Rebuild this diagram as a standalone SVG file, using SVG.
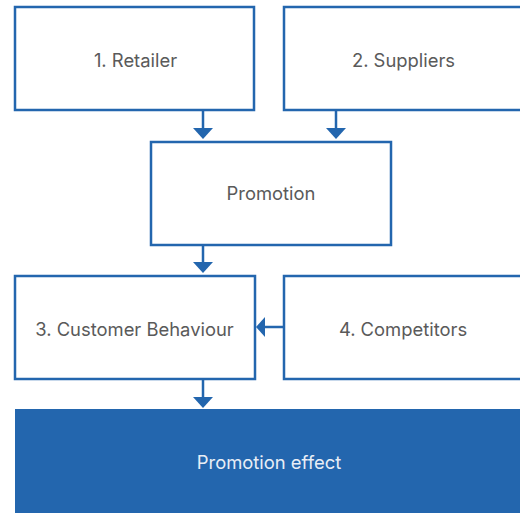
<svg xmlns="http://www.w3.org/2000/svg" width="520" height="513" viewBox="0 0 520 513">
<defs>
<style>
.box{fill:#ffffff;stroke:#2366ae;stroke-width:2.5}
.lbl{font-family:Inter,"Noto Sans",sans-serif;font-size:18.4px;fill:#5a5a5a;text-anchor:middle;dominant-baseline:central}
.wl{fill:#e8eef6}
.con{stroke:#2366ae;stroke-width:2.5;fill:none}
</style>
</defs>
<rect width="520" height="513" fill="#ffffff"/>
<g id="connectors">
<line class="con" x1="203" y1="111" x2="203" y2="130"/>
<path d="M193,128 L213,128 L203,139 z" fill="#2366ae"/>
<line class="con" x1="336" y1="111" x2="336" y2="130"/>
<path d="M326,128 L346,128 L336,139 z" fill="#2366ae"/>
<line class="con" x1="203" y1="246" x2="203" y2="264"/>
<path d="M193,262 L213,262 L203,273 z" fill="#2366ae"/>
<line class="con" x1="284" y1="327" x2="262" y2="327"/>
<path d="M265,317 L265,337 L256,327 z" fill="#2366ae"/>
<line class="con" x1="203" y1="380" x2="203" y2="398"/>
<path d="M193,397 L213,397 L203,408 z" fill="#2366ae"/>
</g>
<g id="n1"><rect class="box" x="15" y="7" width="239" height="103"/><text class="lbl" x="135.5" y="60">1. Retailer</text></g>
<g id="n2"><rect class="box" x="284" y="7" width="240" height="103"/><text class="lbl" x="403.5" y="60">2. Suppliers</text></g>
<g id="promotion"><rect class="box" x="151" y="142" width="240" height="103"/><text class="lbl" x="271" y="193">Promotion</text></g>
<g id="n3"><rect class="box" x="15" y="276" width="240" height="103"/><text class="lbl" x="134.5" y="329">3. Customer Behaviour</text></g>
<g id="n4"><rect class="box" x="284" y="276" width="240" height="103"/><text class="lbl" x="403" y="329">4. Competitors</text></g>
<g id="effect"><rect x="15" y="409" width="510" height="104" fill="#2366ae"/><text class="lbl wl" x="269" y="462">Promotion effect</text></g>
</svg>
